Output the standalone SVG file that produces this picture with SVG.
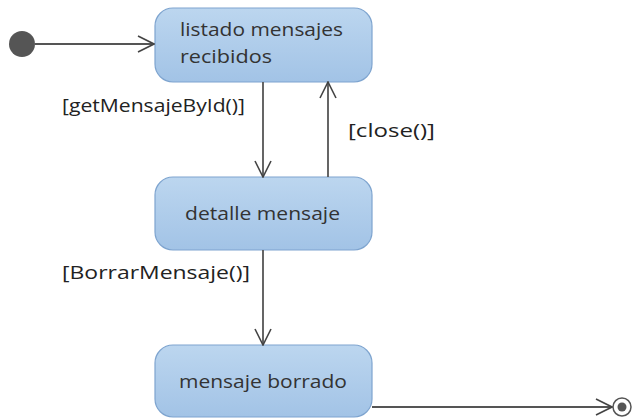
<svg xmlns="http://www.w3.org/2000/svg" width="633" height="420" viewBox="0 0 633 420">
<defs>
<linearGradient id="g" x1="0" y1="0" x2="0" y2="1">
<stop offset="0" stop-color="#bcd6ef"/>
<stop offset="1" stop-color="#a2c3e6"/>
</linearGradient>
<marker id="open" viewBox="0 0 18 18" refX="17" refY="9" markerWidth="18" markerHeight="18" markerUnits="userSpaceOnUse" orient="auto">
<path d="M1,1 L17,9 L1,17" fill="none" stroke="#444" stroke-width="1.6"/>
</marker>
</defs>
<style>
.node rect{fill:url(#g);stroke:#7ea4cf;stroke-width:1.2}
.nt{font-family:"Open Sans","DejaVu Sans",sans-serif;font-size:18px;fill:#333}
.lbl{font-family:"Open Sans","DejaVu Sans",sans-serif;font-size:18px;fill:#222}
.edge{stroke:#555;stroke-width:1.8;fill:none;marker-end:url(#open)}
</style>
<rect width="633" height="420" fill="#fff"/>
<g id="initial"><circle cx="22" cy="44" r="13" fill="#555"/></g>
<g id="n1" class="node"><rect x="155" y="8" width="217" height="74" rx="18"/>
<text class="nt" x="180" y="36" textLength="163" lengthAdjust="spacingAndGlyphs">listado mensajes</text>
<text class="nt" x="180" y="63" textLength="92" lengthAdjust="spacingAndGlyphs">recibidos</text></g>
<g id="n2" class="node"><rect x="155" y="177" width="217" height="73" rx="18"/>
<text class="nt" x="185" y="220" textLength="155" lengthAdjust="spacingAndGlyphs">detalle mensaje</text></g>
<g id="n3" class="node"><rect x="155" y="345" width="217" height="72" rx="18"/>
<text class="nt" x="179" y="388" textLength="168" lengthAdjust="spacingAndGlyphs">mensaje borrado</text></g>
<g id="final"><circle cx="622" cy="407" r="9" fill="#fff" stroke="#555" stroke-width="1.5"/><circle cx="622" cy="407" r="4.5" fill="#555"/></g>
<g id="edges">
<line class="edge" x1="35" y1="44" x2="154" y2="44"/>
<line class="edge" x1="263" y1="82" x2="263" y2="177"/>
<line class="edge" x1="328" y1="177" x2="328" y2="82"/>
<line class="edge" x1="263" y1="250" x2="263" y2="345"/>
<line class="edge" x1="372" y1="407" x2="612" y2="407"/>
<text class="lbl" x="62" y="112" textLength="183" lengthAdjust="spacingAndGlyphs">[getMensajeById()]</text>
<text class="lbl" x="348" y="137" textLength="87" lengthAdjust="spacingAndGlyphs">[close()]</text>
<text class="lbl" x="62" y="279" textLength="188" lengthAdjust="spacingAndGlyphs">[BorrarMensaje()]</text>
</g>
</svg>
